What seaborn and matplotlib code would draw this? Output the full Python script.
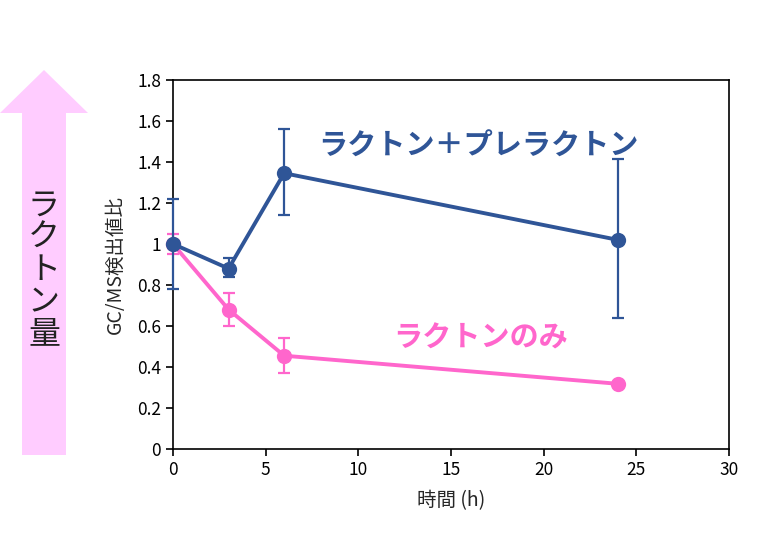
import matplotlib
matplotlib.use("Agg")
import matplotlib.pyplot as plt
import numpy as np
import pandas as pd
import seaborn as sns
from matplotlib.patches import FancyArrow

# data
hours = [0, 3, 6, 24]
pre_mean = [1.0, 0.88, 1.345, 1.02]
pre_low = [0.78, 0.84, 1.14, 0.64]
pre_high = [1.22, 0.93, 1.56, 1.415]
only_mean = [1.0, 0.68, 0.455, 0.318]
only_low = [0.95, 0.60, 0.37, 0.31]
only_high = [1.05, 0.76, 0.54, 0.325]

blue = "#2F5597"
pink = "#FF66CC"

sns.set_style("white")
plt.rcParams['font.family'] = ['Noto Sans CJK JP', 'DejaVu Sans']

df = pd.DataFrame({
    "time": hours * 2,
    "ratio": pre_mean + only_mean,
    "group": ["pre"] * 4 + ["only"] * 4,
})

fig = plt.figure(figsize=(7.64, 5.55), dpi=100)
ax = fig.add_axes([0.2264, 0.191, 0.9542 - 0.2264, 0.856 - 0.191])

# pink first, blue on top
for grp, col, lo, hi, z in [("only", pink, only_low, only_high, 2),
                            ("pre", blue, pre_low, pre_high, 4)]:
    sub = df[df.group == grp]
    m = sub.ratio.to_numpy()
    eb = ax.errorbar(sub.time, m, yerr=[m - np.array(lo), np.array(hi) - m],
                     fmt="none", ecolor=col, elinewidth=1.6, capsize=4, capthick=1.6, zorder=z)
    for art in eb.lines[1] + eb.lines[2]:
        art.set_clip_on(False)
    sns.lineplot(data=sub, x="time", y="ratio", ax=ax, color=col, lw=2.8,
                 marker="o", markersize=11, markeredgewidth=0, zorder=z + 1, clip_on=False)

ax.set_xlim(0, 30)
ax.set_ylim(0, 1.8)
ax.set_xticks(range(0, 31, 5))
ax.set_yticks(np.arange(0, 1.81, 0.2))
ax.set_yticklabels(["0", "0.2", "0.4", "0.6", "0.8", "1", "1.2", "1.4", "1.6", "1.8"])
ax.tick_params(axis="both", direction="out", length=5, width=1.2, labelsize=12.5,
               bottom=True, left=True, colors="black")
for sp in ax.spines.values():
    sp.set_color("black")
    sp.set_linewidth(1.2)
ax.set_xlabel("時間 (h)", fontsize=14, labelpad=8)
ax.set_ylabel("GC/MS検出値比", fontsize=14, labelpad=8)

ax.text(16.46, 1.48, "ラクトン＋プレラクトン", color=blue, fontsize=21,
        fontweight="bold", ha="center", va="center")
ax.text(16.57, 0.546, "ラクトンのみ", color=pink, fontsize=21,
        fontweight="bold", ha="center", va="center")

# big arrow on the left
W, H = 764, 555
arrow = FancyArrow(44 / W, 1 - 455 / H, 0, (455 - 70) / H, width=44 / W,
                   head_width=88 / W, head_length=43 / H, length_includes_head=True,
                   transform=fig.transFigure, color="#FFCCFF", lw=0)
fig.patches.append(arrow)
fig.text(44 / W, 1 - 270 / H, "\n".join("ラクトン量"), fontsize=23,
         ha="center", va="center", linespacing=1.0, color="#222222")

fig.savefig("out.png", dpi=100)
